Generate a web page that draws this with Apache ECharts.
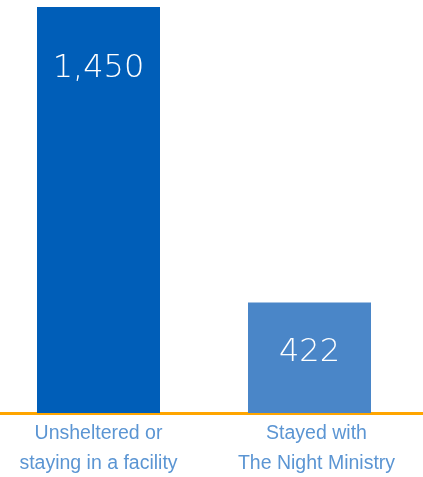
<!DOCTYPE html>
<html><head><meta charset="utf-8">
<script src="https://cdn.jsdelivr.net/npm/echarts@6/dist/echarts.min.js"></script>
<style>html,body{margin:0;padding:0;background:#fff}#c{width:423px;height:477px}</style>
</head><body><div id="c"></div>
<script>
const categories = ['Unsheltered or\nstaying in a facility', 'Stayed with\nThe Night Ministry'];
const values = [1450, 422];
const barColors = ['#005EB8', '#4A86C8'];
const labelDistances = [46, 34];

const chart = echarts.init(document.getElementById('c'));
chart.setOption({
  animation: false,
  grid: [
    { left: 98.5, right: 113.5, top: 7, bottom: 64, outerBoundsMode: 'none', containLabel: false },
    { left: 0, right: 0, top: 7, bottom: 64, outerBoundsMode: 'none', containLabel: false }
  ],
  xAxis: [
    {
      type: 'category', gridIndex: 0, data: categories, boundaryGap: false,
      axisLine: { show: false }, axisTick: { show: false }, splitLine: { show: false },
      axisLabel: {
        interval: 0, margin: 6, color: '#5B95D3', fontFamily: 'Liberation Sans', fontSize: 19.5, lineHeight: 30,
        formatter: (v, i) => i === 1 ? '{b|' + v.split('\n').join('}\n{b|') + '}' : v,
        rich: { b: { color: '#5B95D3', fontFamily: 'Liberation Sans', fontSize: 19.5, lineHeight: 30, padding: [0, 0, 0, 14] } }
      }
    },
    {
      type: 'value', gridIndex: 1, min: 0, max: 1,
      axisLine: { show: true, onZero: false, lineStyle: { color: '#FFA500', width: 3 } },
      axisTick: { show: false }, axisLabel: { show: false }, splitLine: { show: false }
    }
  ],
  yAxis: [
    { type: 'value', gridIndex: 0, min: 37, max: 1450, show: false, splitLine: { show: false } },
    { type: 'value', gridIndex: 1, min: 0, max: 1, show: false, splitLine: { show: false } }
  ],
  series: [{
    type: 'bar', xAxisIndex: 0, yAxisIndex: 0, barWidth: 123,
    data: values.map((v, i) => ({
      value: v,
      itemStyle: { color: barColors[i] },
      label: { distance: labelDistances[i] }
    })),
    label: {
      show: true, position: 'insideTop', color: '#fff',
      fontFamily: 'DejaVu Sans', fontWeight: 200, fontSize: 32,
      formatter: p => p.value.toLocaleString('en-US')
    }
  }]
});
</script></body></html>
